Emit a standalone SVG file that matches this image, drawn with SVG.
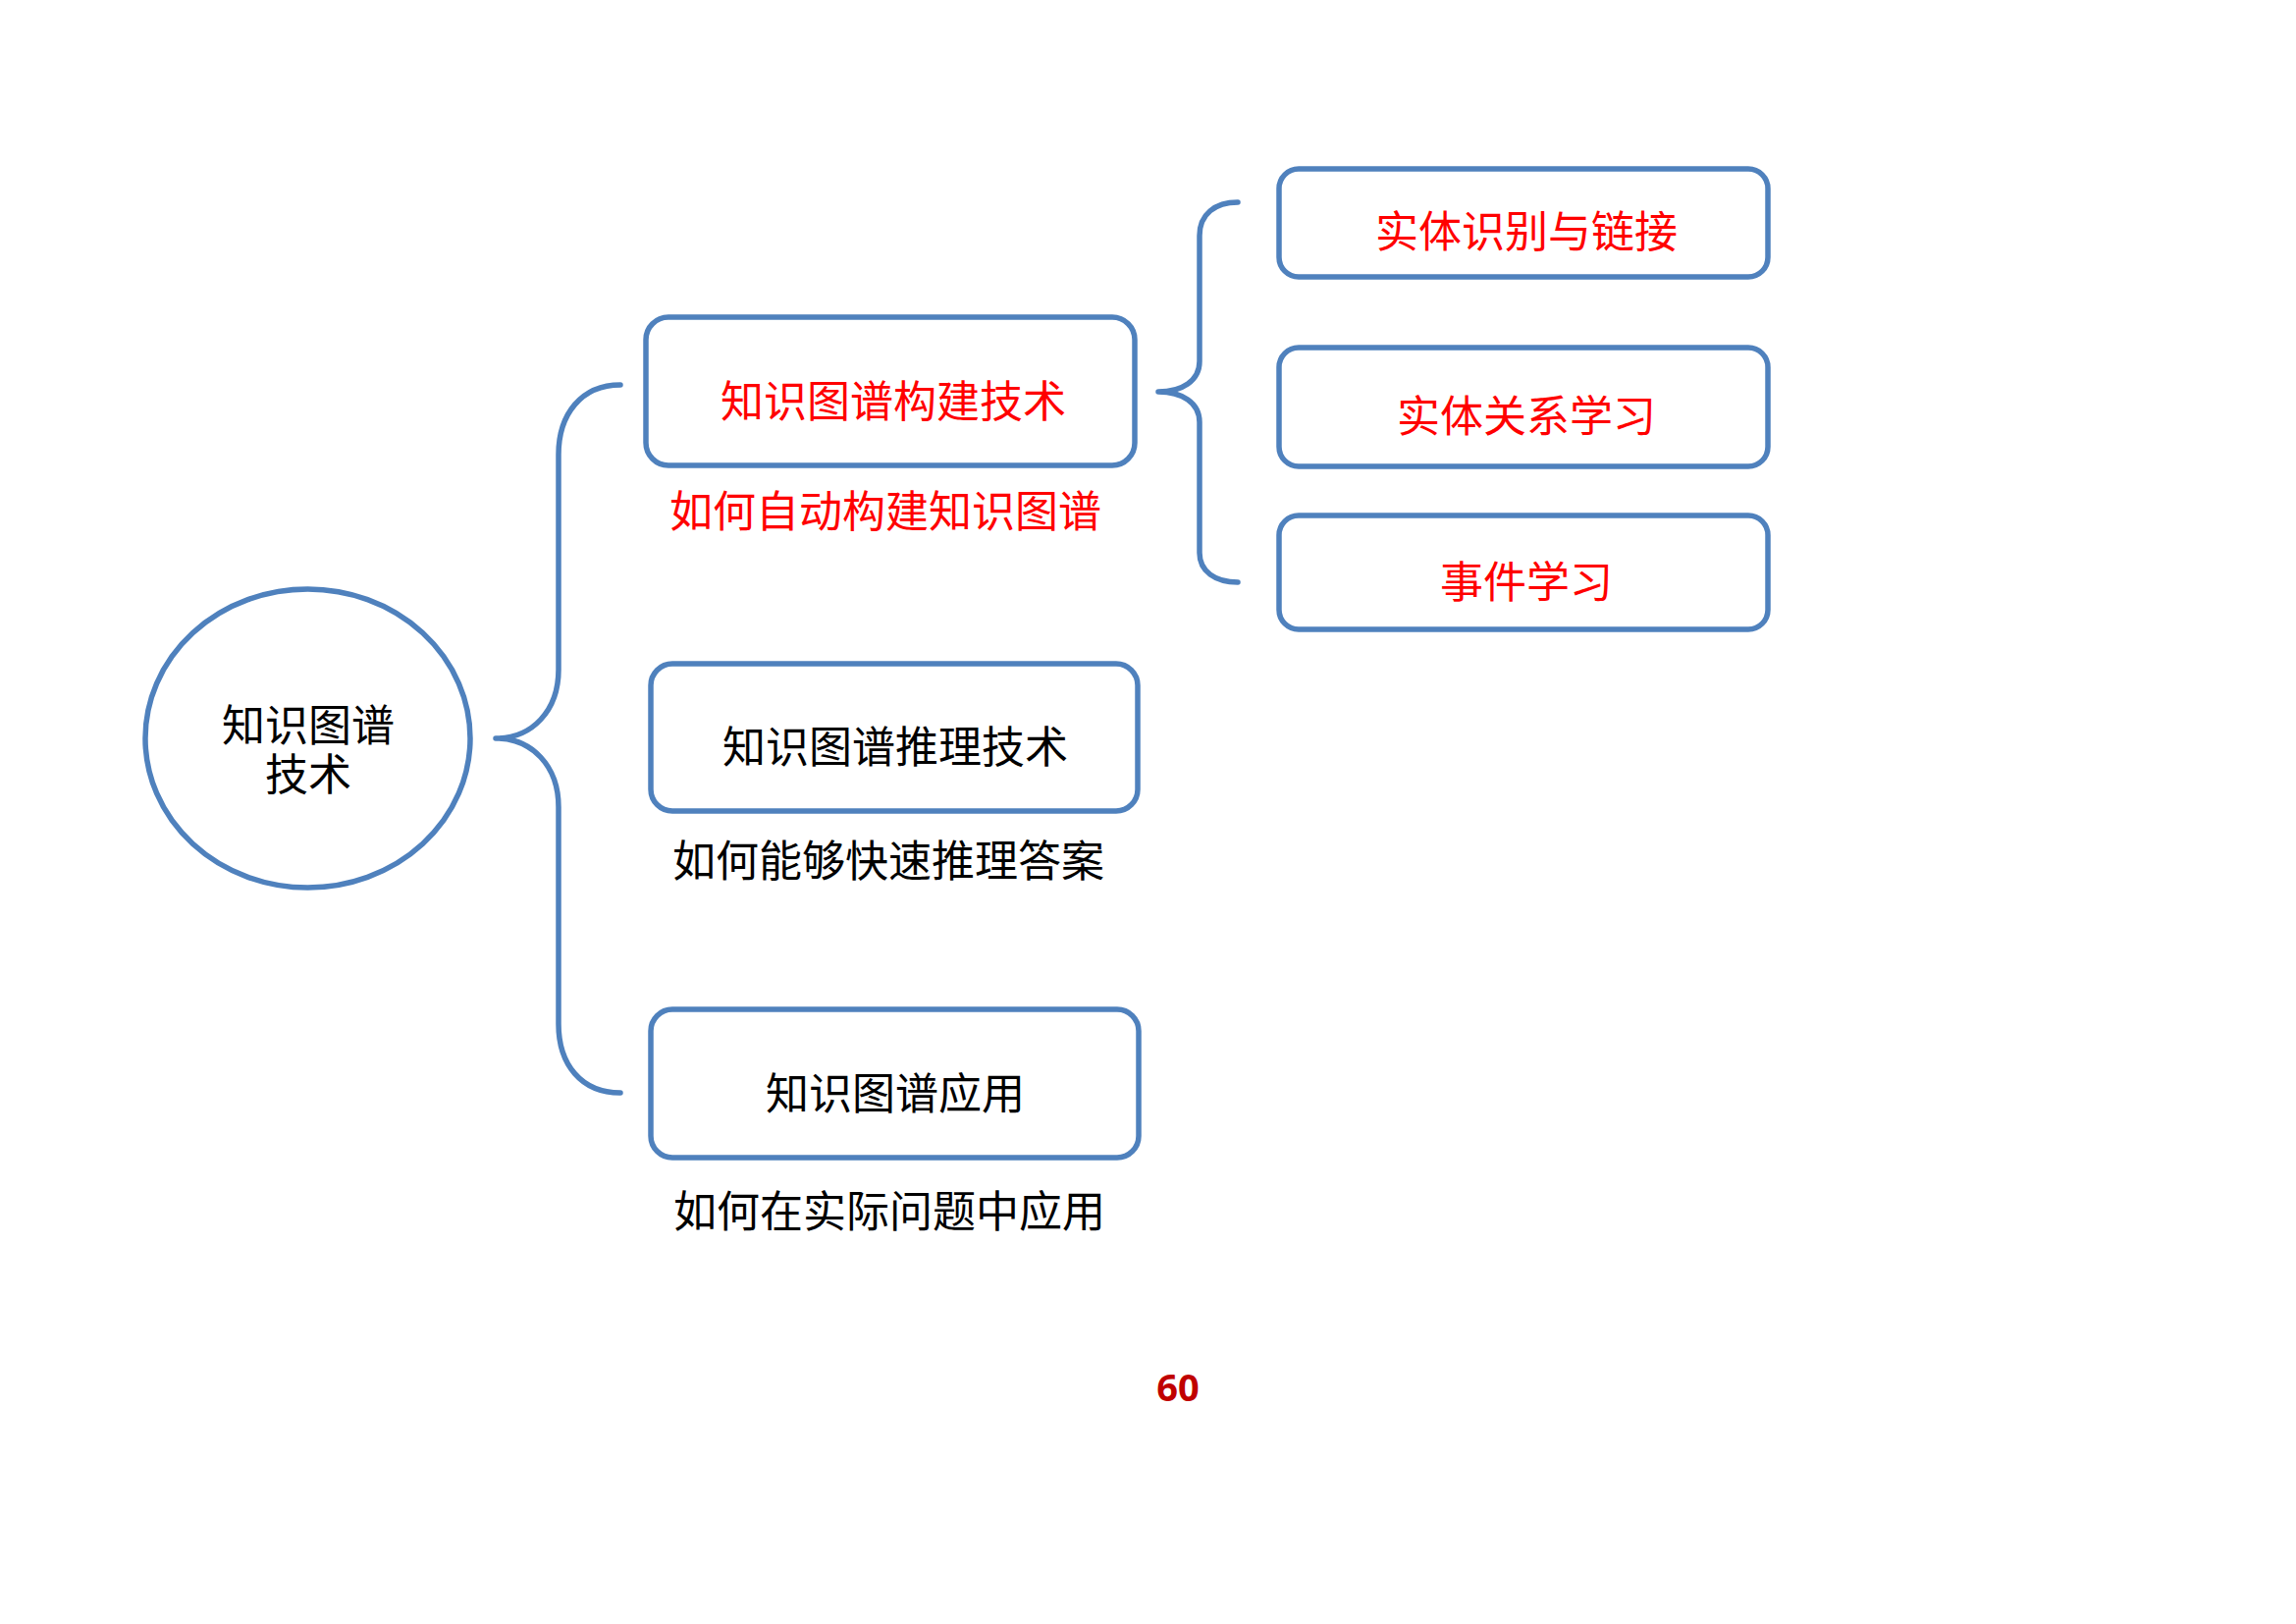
<svg xmlns="http://www.w3.org/2000/svg" width="2339" height="1654" viewBox="0 0 2339 1654">
<style>
.shape{fill:#FFFFFF;stroke:#4F81BD;stroke-width:5.5}
.brace{fill:none;stroke:#4F81BD;stroke-width:5.5;stroke-linecap:round;stroke-linejoin:round}
.t{font-family:"Noto Sans CJK SC","Noto Sans CJK TC",sans-serif;font-size:44px;text-anchor:middle;dominant-baseline:central}
.red{fill:#FF0000}
.blk{fill:#000000}
.pg{font-family:"Open Sans","Liberation Sans",sans-serif;font-size:38px;font-weight:bold;fill:#C00000;text-anchor:middle}
</style>
<rect width="2339" height="1654" fill="#FFFFFF"/>
<g id="connectors">
<path class="brace" d="M632,392 C592,392 569,422 569,463 L569,682 C569,724 542,752 505,752 C542,752 569,780 569,822 L569,1043 C569,1084 592,1113 632,1113"/>
<path class="brace" d="M1261,206 C1238,206 1222,218 1222,240 L1222,368 C1222,388 1204,399 1180,399 C1204,399 1222,410 1222,430 L1222,563 C1222,582 1238,593 1261,593"/>
</g>
<g id="root">
<ellipse class="shape" cx="313.5" cy="752" rx="165.5" ry="152"/>
<text class="t blk" x="314" y="736">知识图谱<tspan x="314" dy="50">技术</tspan></text>
</g>
<g id="build">
<rect class="shape" x="658" y="323" width="498" height="151" rx="23"/>
<text class="t red" x="910" y="406">知识图谱构建技术</text>
</g>
<g id="build-note">
<text class="t red" x="902" y="518">如何自动构建知识图谱</text>
</g>
<g id="reason">
<rect class="shape" x="663" y="676" width="496" height="150" rx="22"/>
<text class="t blk" x="912" y="758">知识图谱推理技术</text>
</g>
<g id="reason-note">
<text class="t blk" x="905" y="874">如何能够快速推理答案</text>
</g>
<g id="apply">
<rect class="shape" x="663" y="1028" width="497" height="151" rx="22"/>
<text class="t blk" x="912" y="1111">知识图谱应用</text>
</g>
<g id="apply-note">
<text class="t blk" x="906" y="1231">如何在实际问题中应用</text>
</g>
<g id="entity-link">
<rect class="shape" x="1303" y="172" width="498" height="110" rx="20"/>
<text class="t red" x="1555" y="233">实体识别与链接</text>
</g>
<g id="relation">
<rect class="shape" x="1303" y="354" width="498" height="121" rx="20"/>
<text class="t red" x="1555" y="421">实体关系学习</text>
</g>
<g id="event">
<rect class="shape" x="1303" y="525" width="498" height="116" rx="20"/>
<text class="t red" x="1555" y="590">事件学习</text>
</g>
<text class="pg" x="1200" y="1427">60</text>
</svg>
